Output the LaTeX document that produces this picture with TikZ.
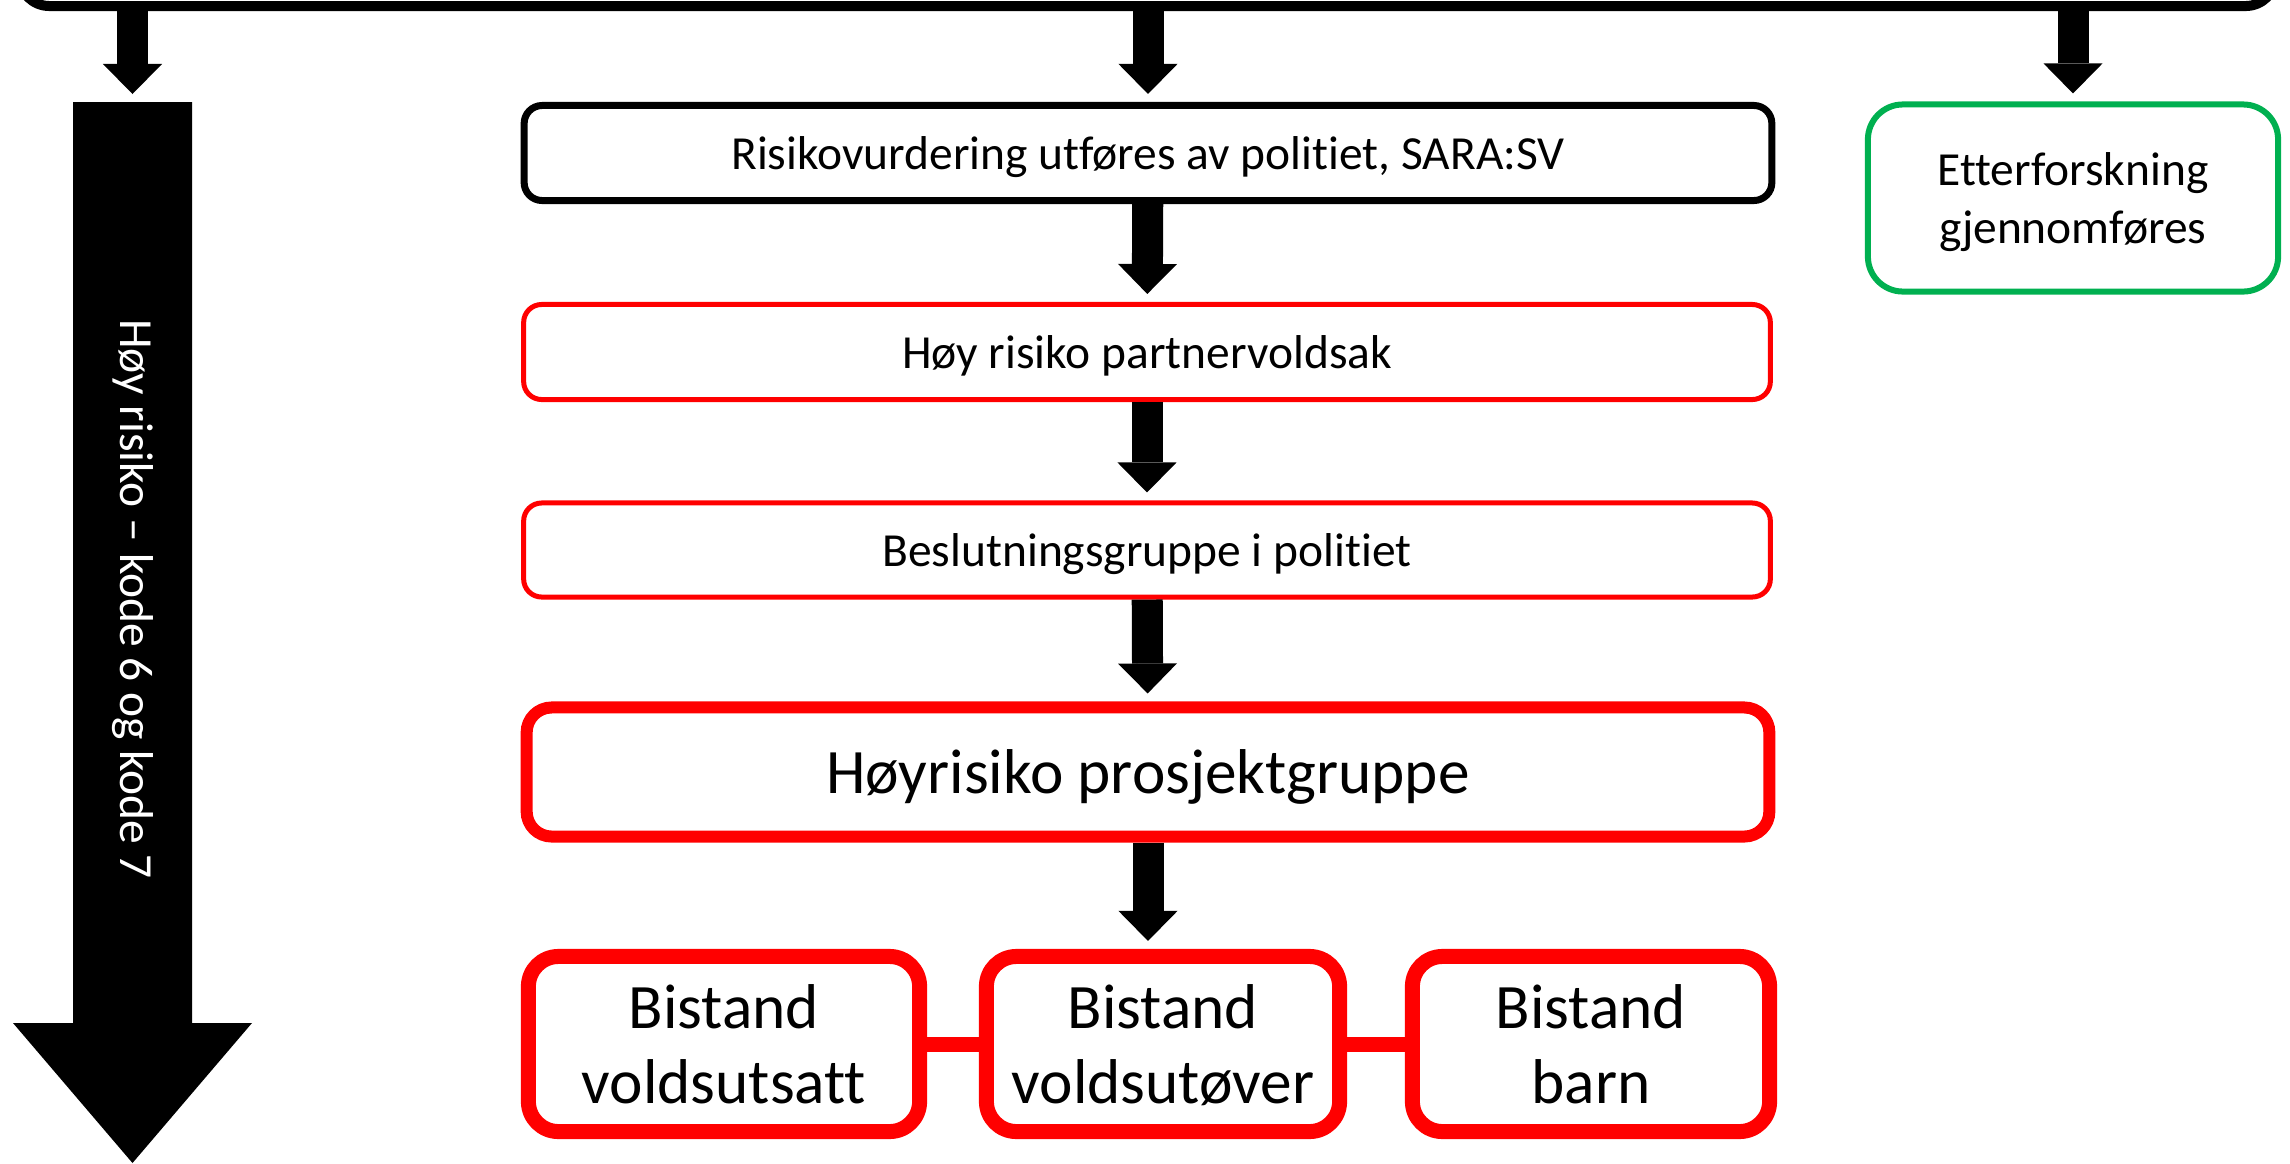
\documentclass[tikz,border=0pt]{standalone}
\usepackage{fontspec}
\setmainfont{Carlito}[Ligatures=NoCommon]
\usepackage{tikz}
\usetikzlibrary{arrows.meta}
\definecolor{boxred}{RGB}{255,0,0}
\definecolor{boxgreen}{RGB}{0,176,80}

\begin{document}
\begin{tikzpicture}[x=0.01cm,y=-0.01cm,
  blockarrow/.style={line width=0.31cm,-{Triangle[length=0.3cm,width=0.59cm,line width=0pt]},shorten >=0.08cm},
  stepbox/.style={draw,fill=white,rounded corners=0.18cm,align=center,inner sep=0pt,text depth=0pt,font=\fontsize{13.5}{16.5}\selectfont},
  bigbox/.style={stepbox,draw=boxred,rounded corners=0.3cm,line width=0.15cm,font=\fontsize{18}{21.6}\selectfont},
  link/.style={draw=boxred,line width=0.15cm}]
\useasboundingbox (0,0) rectangle (2290,1163);
%% top frame
\node[draw,line width=0.1cm,rounded corners=0.3cm,minimum width=22.55cm,minimum height=0.92cm] (top) at (1147.5,-40) {};
%% left column
\fill (73,102) -- (192,102) -- (192,1023) -- (252,1023) -- (132.5,1163) -- (13,1023) -- (73,1023) -- cycle;
\coordinate (kt) at (132.5,102);
\node[white,rotate=-90,font=\fontsize{13.5}{16.5}\selectfont] (kode) at (132.5,599) {Høy risiko – kode 6 og kode 7};
%% middle column
\node[stepbox,line width=0.07cm,minimum width=12.47cm,minimum height=0.95cm] (risiko) at (1148,153) {Risikovurdering utføres av politiet, SARA:SV};
\node[stepbox,draw=boxred,line width=0.05cm,minimum width=12.46cm,minimum height=0.95cm] (hoy) at (1147,352) {Høy risiko partnervoldsak};
\node[stepbox,draw=boxred,line width=0.05cm,minimum width=12.46cm,minimum height=0.94cm] (beslutning) at (1147,550) {Beslutningsgruppe i politiet};
\node[bigbox,rounded corners=0.25cm,line width=0.12cm,minimum width=12.42cm,minimum height=1.29cm] (prosjekt) at (1148,772) {Høyrisiko prosjektgruppe};
\node[bigbox,minimum width=3.91cm,minimum height=1.75cm] (utsatt) at (724,1044) {Bistand\\voldsutsatt};
\node[bigbox,minimum width=3.53cm,minimum height=1.75cm] (utover) at (1163,1044) {Bistand\\voldsutøver};
\node[bigbox,minimum width=3.57cm,minimum height=1.75cm] (barn) at (1591,1044) {Bistand\\barn};
%% right column
\node[stepbox,draw=boxgreen,line width=0.06cm,rounded corners=0.35cm,minimum width=4.10cm,minimum height=1.87cm] (etter) at (2073,198) {Etterforskning\\gjennomføres};
%% arrows
\draw[blockarrow] (top.south -| kt) -- (kt);
\draw[blockarrow] (top.south -| risiko.north) -- (risiko.north);
\draw[blockarrow] (top.south -| etter.north) -- (etter.north);
\draw[blockarrow] (risiko) -- (hoy);
\draw[blockarrow] (hoy) -- (beslutning);
\draw[blockarrow] (beslutning) -- (prosjekt);
\draw[blockarrow] (prosjekt.south) -- (prosjekt.south |- utover.north);
\draw[link] (utsatt) -- (utover);
\draw[link] (utover) -- (barn);
\end{tikzpicture}
\end{document}
